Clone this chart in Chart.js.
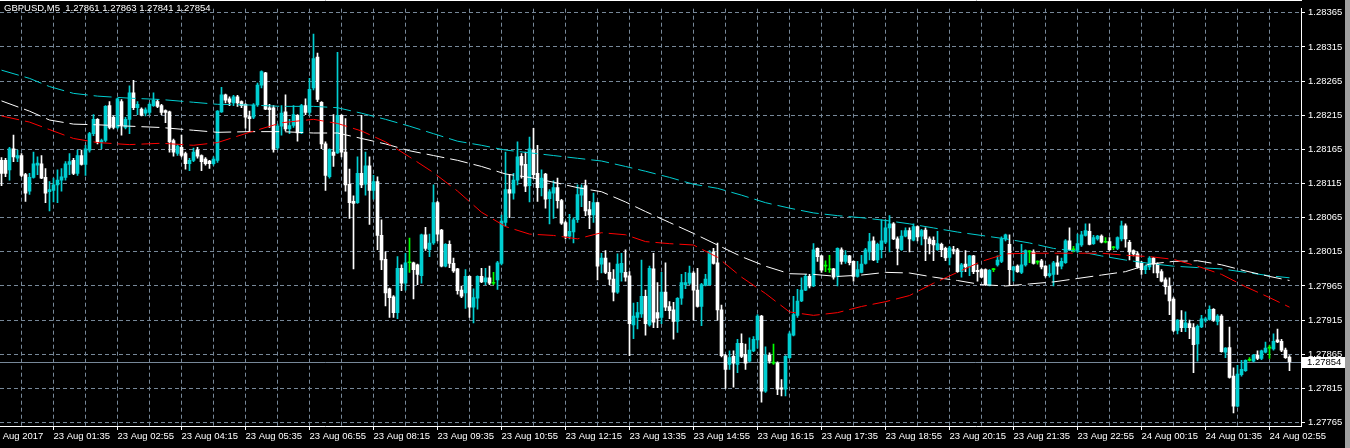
<!DOCTYPE html>
<html>
<head>
<meta charset="utf-8">
<title>GBPUSD,M5</title>
<script src="https://cdn.jsdelivr.net/npm/chart.js@4.4.1/dist/chart.umd.min.js"></script>
<style>
  html, body { margin: 0; padding: 0; background: #000; overflow: hidden; }
  canvas { display: block; }
</style>
</head>
<body>
<canvas id="myChart" width="1350" height="448"></canvas>
<script>
const symbol = "GBPUSD,M5";

// M5 candles, bar 0 = 23 Aug 00:30 ... bar 322 = 24 Aug 03:20
const openP = [
  1.28149,1.28149,1.28135,1.28166,1.28152,1.28156,1.28128,1.28104,1.28124,1.28142,
  1.28144,1.28124,1.28103,1.28105,1.28113,1.28120,1.28124,1.28143,1.28149,1.28130,
  1.28156,1.28143,1.28164,1.28188,1.28209,1.28176,1.28178,1.28229,1.28212,1.28197,
  1.28235,1.28197,1.28209,1.28248,1.28226,1.28224,1.28218,1.28219,1.28229,1.28235,
  1.28229,1.28222,1.28220,1.28178,1.28159,1.28168,1.28159,1.28144,1.28149,1.28164,
  1.28156,1.28151,1.28148,1.28144,1.28149,1.28220,1.28245,1.28239,1.28233,1.28242,
  1.28235,1.28231,1.28213,1.28212,1.28230,1.28259,1.28277,1.28226,1.28226,1.28167,
  1.28199,1.28220,1.28195,1.28200,1.28215,1.28189,1.28229,1.28219,1.28255,1.28300,
  1.28234,1.28173,1.28125,1.28161,1.28160,1.28215,1.28161,1.28114,1.28089,1.28087,
  1.28130,1.28114,1.28141,1.28105,1.28118,1.28039,1.28004,1.27961,1.27949,1.27926,
  1.27991,1.27969,1.27999,1.27999,1.27996,1.27980,1.28040,1.28018,1.28028,1.28087,
  1.28047,1.27994,1.28026,1.27998,1.27990,1.27959,1.27955,1.27979,1.27934,1.27947,
  1.27979,1.27971,1.27977,1.27969,1.27974,1.27998,1.28058,1.28106,1.28101,1.28120,
  1.28155,1.28143,1.28112,1.28164,1.28130,1.28109,1.28129,1.28093,1.28101,1.28109,
  1.28090,1.28058,1.28038,1.28044,1.28062,1.28098,1.28112,1.28077,1.28069,1.28087,
  1.27997,1.28006,1.27985,1.27975,1.27956,1.27985,1.27985,1.27980,1.27908,1.27919,
  1.27924,1.27950,1.27908,1.27990,1.27926,1.27919,1.27956,1.27935,1.27930,1.27913,
  1.27947,1.27967,1.27969,1.27984,1.27959,1.27935,1.27966,1.27967,1.28015,1.27999,
  1.27930,1.27863,1.27850,1.27862,1.27850,1.27881,1.27865,1.27855,1.27870,1.27886,
  1.27921,1.27811,1.27864,1.27852,1.27852,1.27816,1.27814,1.27860,1.27893,1.27922,
  1.27943,1.27959,1.27979,1.27965,1.28020,1.28009,1.27994,1.27989,1.27990,1.27979,
  1.28018,1.28001,1.28009,1.28001,1.27979,1.27985,1.27998,1.28015,1.28031,1.28003,
  1.28018,1.28029,1.28050,1.28056,1.28034,1.28018,1.28038,1.28046,1.28032,1.28052,
  1.28038,1.28047,1.28034,1.28032,1.28018,1.28026,1.28020,1.28007,1.28018,1.28018,
  1.27986,1.27997,1.27994,1.28009,1.27988,1.27989,1.27989,1.27966,1.27989,1.27996,
  1.28001,1.28034,1.28026,1.27988,1.27994,1.27985,1.27996,1.28015,1.28015,1.28000,
  1.28002,1.27994,1.27980,1.27982,1.27999,1.27994,1.27999,1.28031,1.28018,1.28017,
  1.28025,1.28039,1.28045,1.28027,1.28034,1.28038,1.28029,1.28030,1.28021,1.28020,
  1.28034,1.28053,1.28029,1.28017,1.28012,1.27998,1.27989,1.27993,1.28006,1.27997,
  1.27986,1.27974,1.27965,1.27946,1.27900,1.27915,1.27904,1.27910,1.27904,1.27880,
  1.27905,1.27915,1.27916,1.27931,1.27913,1.27921,1.27868,1.27875,1.27833,1.27789,
  1.27835,1.27841,1.27856,1.27855,1.27864,1.27859,1.27868,1.27874,1.27873,1.27886,
  1.27884,1.27871,1.27861
];
const highP = [
  1.28153,1.28152,1.28168,1.28186,1.28164,1.28159,1.28130,1.28130,1.28161,1.28154,
  1.28156,1.28137,1.28118,1.28123,1.28135,1.28137,1.28147,1.28159,1.28152,1.28164,
  1.28164,1.28171,1.28190,1.28216,1.28210,1.28180,1.28229,1.28235,1.28214,1.28240,
  1.28238,1.28212,1.28258,1.28266,1.28235,1.28226,1.28226,1.28233,1.28248,1.28238,
  1.28231,1.28223,1.28221,1.28180,1.28172,1.28186,1.28161,1.28152,1.28167,1.28168,
  1.28157,1.28153,1.28149,1.28154,1.28222,1.28256,1.28246,1.28242,1.28244,1.28244,
  1.28236,1.28232,1.28221,1.28232,1.28262,1.28280,1.28278,1.28231,1.28229,1.28202,
  1.28229,1.28245,1.28209,1.28229,1.28216,1.28231,1.28239,1.28269,1.28334,1.28306,
  1.28235,1.28176,1.28166,1.28216,1.28307,1.28216,1.28210,1.28136,1.28097,1.28154,
  1.28215,1.28161,1.28154,1.28127,1.28125,1.28062,1.28015,1.27962,1.27951,1.28008,
  1.27996,1.28013,1.28035,1.28000,1.27997,1.28041,1.28051,1.28041,1.28113,1.28089,
  1.28048,1.28027,1.28031,1.28006,1.27991,1.27965,1.27989,1.27980,1.27961,1.27980,
  1.27991,1.27991,1.27994,1.27985,1.28001,1.28069,1.28161,1.28128,1.28130,1.28176,
  1.28159,1.28161,1.28183,1.28196,1.28171,1.28135,1.28130,1.28106,1.28119,1.28123,
  1.28092,1.28060,1.28070,1.28065,1.28113,1.28113,1.28120,1.28089,1.28101,1.28088,
  1.28013,1.28017,1.27999,1.27989,1.28012,1.28013,1.28018,1.27986,1.27940,1.27941,
  1.28003,1.27959,1.27994,1.28013,1.27970,1.27985,1.27999,1.27942,1.27941,1.27948,
  1.27982,1.27985,1.27994,1.27986,1.27991,1.27969,1.27982,1.28017,1.28020,1.28028,
  1.27937,1.27865,1.27870,1.27870,1.27887,1.27895,1.27880,1.27889,1.27891,1.27923,
  1.27922,1.27876,1.27867,1.27880,1.27854,1.27828,1.27863,1.27898,1.27950,1.27960,
  1.27977,1.27982,1.27982,1.28027,1.28021,1.28010,1.28002,1.28010,1.27991,1.28021,
  1.28021,1.28017,1.28010,1.28002,1.28001,1.28010,1.28020,1.28042,1.28037,1.28028,
  1.28062,1.28062,1.28068,1.28058,1.28037,1.28046,1.28050,1.28050,1.28056,1.28053,
  1.28048,1.28050,1.28037,1.28037,1.28045,1.28028,1.28022,1.28023,1.28023,1.28020,
  1.27998,1.28017,1.28010,1.28010,1.27996,1.27990,1.27990,1.27989,1.27991,1.28009,
  1.28037,1.28041,1.28040,1.27994,1.27996,1.28026,1.28018,1.28017,1.28018,1.28002,
  1.28004,1.27995,1.27996,1.28001,1.28009,1.28006,1.28033,1.28050,1.28023,1.28041,
  1.28045,1.28056,1.28056,1.28039,1.28039,1.28040,1.28036,1.28036,1.28023,1.28037,
  1.28060,1.28056,1.28032,1.28018,1.28015,1.28001,1.27996,1.28008,1.28007,1.27999,
  1.27989,1.27977,1.27977,1.27948,1.27916,1.27929,1.27927,1.27915,1.27910,1.27908,
  1.27922,1.27919,1.27936,1.27932,1.27923,1.27923,1.27875,1.27905,1.27845,1.27849,
  1.27856,1.27857,1.27860,1.27865,1.27870,1.27871,1.27883,1.27878,1.27895,1.27902,
  1.27887,1.27874,1.27863
];
const lowP = [
  1.28112,1.28125,1.28120,1.28147,1.28147,1.28125,1.28089,1.28099,1.28123,1.28128,
  1.28122,1.28087,1.28075,1.28088,1.28087,1.28104,1.28120,1.28128,1.28128,1.28127,
  1.28142,1.28127,1.28161,1.28185,1.28173,1.28166,1.28176,1.28195,1.28195,1.28195,
  1.28186,1.28195,1.28188,1.28223,1.28216,1.28214,1.28214,1.28216,1.28228,1.28226,
  1.28216,1.28204,1.28161,1.28155,1.28156,1.28154,1.28136,1.28134,1.28147,1.28152,
  1.28134,1.28142,1.28137,1.28142,1.28146,1.28219,1.28233,1.28229,1.28229,1.28228,
  1.28226,1.28196,1.28191,1.28210,1.28228,1.28255,1.28223,1.28197,1.28161,1.28165,
  1.28186,1.28192,1.28188,1.28197,1.28177,1.28188,1.28216,1.28216,1.28252,1.28235,
  1.28166,1.28105,1.28123,1.28140,1.28159,1.28154,1.28104,1.28064,1.27990,1.28086,
  1.28109,1.28098,1.28055,1.28092,1.28018,1.27989,1.27936,1.27919,1.27919,1.27917,
  1.27958,1.27959,1.27985,1.27946,1.27967,1.27969,1.28017,1.28008,1.28026,1.28031,
  1.27993,1.27993,1.27992,1.27985,1.27953,1.27948,1.27932,1.27919,1.27911,1.27931,
  1.27970,1.27967,1.27967,1.27967,1.27960,1.27996,1.28053,1.28065,1.28092,1.28113,
  1.28123,1.28103,1.28088,1.28123,1.28089,1.28097,1.28079,1.28056,1.28064,1.28079,
  1.28055,1.28034,1.28034,1.28028,1.28058,1.28081,1.28068,1.28049,1.28058,1.27974,
  1.27984,1.27983,1.27967,1.27943,1.27954,1.27972,1.27972,1.27863,1.27888,1.27902,
  1.27919,1.27893,1.27906,1.27904,1.27904,1.27910,1.27929,1.27917,1.27887,1.27897,
  1.27938,1.27961,1.27967,1.27915,1.27934,1.27907,1.27965,1.27966,1.27997,1.27915,
  1.27861,1.27815,1.27843,1.27817,1.27838,1.27860,1.27843,1.27854,1.27869,1.27874,
  1.27795,1.27809,1.27852,1.27850,1.27806,1.27804,1.27804,1.27859,1.27892,1.27919,
  1.27942,1.27958,1.27962,1.27964,1.28001,1.27985,1.27986,1.27985,1.27975,1.27965,
  1.27997,1.27998,1.27996,1.27972,1.27978,1.27984,1.27997,1.28003,1.28002,1.27999,
  1.28006,1.28027,1.28015,1.28033,1.27996,1.28017,1.28037,1.28015,1.28031,1.28031,
  1.28025,1.28002,1.28012,1.28002,1.28017,1.28008,1.28002,1.27996,1.28012,1.27985,
  1.27978,1.27986,1.27980,1.27983,1.27972,1.27977,1.27966,1.27965,1.27986,1.27994,
  1.27999,1.28031,1.27967,1.27972,1.27985,1.27983,1.27994,1.27999,1.27997,1.27997,
  1.27990,1.27978,1.27978,1.27965,1.27982,1.27990,1.27998,1.28017,1.28015,1.28014,
  1.28023,1.28038,1.28025,1.28026,1.28032,1.28028,1.28028,1.28017,1.28018,1.28018,
  1.28031,1.28022,1.28003,1.28009,1.27991,1.27982,1.27983,1.27989,1.27984,1.27977,
  1.27971,1.27953,1.27923,1.27898,1.27895,1.27898,1.27898,1.27888,1.27838,1.27855,
  1.27904,1.27912,1.27915,1.27913,1.27908,1.27868,1.27860,1.27830,1.27779,1.27788,
  1.27833,1.27840,1.27855,1.27854,1.27857,1.27857,1.27867,1.27859,1.27871,1.27882,
  1.27869,1.27859,1.27841
];
const closeP = [
  1.28130,1.28130,1.28166,1.28154,1.28156,1.28127,1.28101,1.28124,1.28144,1.28145,
  1.28123,1.28101,1.28106,1.28113,1.28120,1.28125,1.28144,1.28147,1.28130,1.28156,
  1.28143,1.28166,1.28188,1.28209,1.28176,1.28178,1.28228,1.28197,1.28197,1.28239,
  1.28200,1.28209,1.28248,1.28226,1.28231,1.28215,1.28223,1.28231,1.28237,1.28228,
  1.28219,1.28219,1.28176,1.28161,1.28170,1.28156,1.28144,1.28149,1.28161,1.28155,
  1.28147,1.28144,1.28144,1.28151,1.28221,1.28245,1.28237,1.28234,1.28242,1.28233,
  1.28229,1.28212,1.28210,1.28230,1.28259,1.28279,1.28224,1.28223,1.28165,1.28199,
  1.28218,1.28195,1.28200,1.28216,1.28189,1.28229,1.28219,1.28253,1.28298,1.28238,
  1.28173,1.28127,1.28165,1.28156,1.28215,1.28161,1.28113,1.28087,1.28086,1.28130,
  1.28113,1.28141,1.28105,1.28118,1.28039,1.28003,1.27955,1.27948,1.27926,1.27991,
  1.27969,1.27999,1.27999,1.27989,1.27982,1.28040,1.28020,1.28028,1.28087,1.28041,
  1.27994,1.28026,1.27998,1.27987,1.27958,1.27950,1.27979,1.27934,1.27948,1.27979,
  1.27971,1.27977,1.27969,1.27969,1.27999,1.28060,1.28106,1.28101,1.28120,1.28154,
  1.28142,1.28111,1.28166,1.28128,1.28109,1.28123,1.28092,1.28103,1.28109,1.28090,
  1.28057,1.28038,1.28045,1.28062,1.28099,1.28109,1.28075,1.28069,1.28087,1.27994,
  1.28006,1.27985,1.27975,1.27956,1.27997,1.27998,1.27978,1.27910,1.27921,1.27926,
  1.27950,1.27910,1.27991,1.27912,1.27918,1.27956,1.27934,1.27929,1.27913,1.27947,
  1.27970,1.27970,1.27984,1.27959,1.27935,1.27967,1.27975,1.28014,1.27998,1.27930,
  1.27863,1.27843,1.27860,1.27852,1.27881,1.27862,1.27852,1.27871,1.27887,1.27921,
  1.27811,1.27864,1.27855,1.27852,1.27814,1.27814,1.27862,1.27895,1.27923,1.27943,
  1.27959,1.27979,1.27965,1.28018,1.28008,1.27988,1.27994,1.27989,1.27978,1.28020,
  1.28001,1.28010,1.27999,1.27979,1.27989,1.27997,1.28018,1.28030,1.28003,1.28026,
  1.28031,1.28050,1.28056,1.28034,1.28020,1.28038,1.28046,1.28034,1.28052,1.28037,
  1.28046,1.28034,1.28027,1.28025,1.28027,1.28018,1.28006,1.28021,1.28017,1.27986,
  1.27996,1.27993,1.28009,1.27986,1.27986,1.27978,1.27967,1.27988,1.27989,1.28003,
  1.28034,1.28040,1.27989,1.27993,1.27986,1.27996,1.28017,1.28015,1.27998,1.28000,
  1.27993,1.27980,1.27983,1.27999,1.27994,1.28001,1.28031,1.28018,1.28018,1.28027,
  1.28040,1.28046,1.28026,1.28036,1.28038,1.28029,1.28029,1.28018,1.28021,1.28036,
  1.28053,1.28034,1.28015,1.28012,1.27993,1.27989,1.27994,1.28006,1.27997,1.27984,
  1.27972,1.27964,1.27943,1.27900,1.27915,1.27904,1.27911,1.27904,1.27879,1.27906,
  1.27917,1.27917,1.27931,1.27915,1.27921,1.27869,1.27874,1.27831,1.27789,1.27836,
  1.27843,1.27856,1.27856,1.27864,1.27859,1.27870,1.27874,1.27874,1.27884,1.27883,
  1.27871,1.27860,1.27854
];

// moving averages at these bars
const maBar = [0,7,12,18,24,32,40,48,54,62,70,78,84,90,96,102,108,114,120,126,132,138,144,150,156,161,
  167,173,179,185,191,197,203,209,215,221,227,233,239,245,251,257,263,269,275,281,287,293,299,305,311,317,322];
const maFast = [1.28214,1.28205,1.28194,1.28181,1.28175,1.28172,1.28174,1.28171,1.28175,1.28190,
  1.28204,1.28209,1.28203,1.28192,1.28176,1.28154,1.28131,1.28104,1.28073,1.28052,
  1.28041,1.28039,1.28034,1.28043,1.28040,1.28030,1.28027,1.28025,1.28007,1.27978,
  1.27954,1.27927,1.27922,1.27926,1.27935,1.27942,1.27951,1.27969,1.27985,1.28001,
  1.28012,1.28013,1.28013,1.28013,1.28013,1.28010,1.28008,1.28004,1.27994,1.27982,
  1.27964,1.27948,1.27934];
const maMid = [1.28236,1.28221,1.28208,1.28202,1.28201,1.28199,1.28197,1.28193,1.28190,1.28191,
  1.28191,1.28189,1.28189,1.28181,1.28173,1.28163,1.28156,1.28149,1.28140,1.28129,
  1.28124,1.28117,1.28109,1.28103,1.28088,1.28074,1.28058,1.28042,1.28025,1.28008,
  1.27994,1.27983,1.27982,1.27979,1.27981,1.27985,1.27984,1.27978,1.27973,1.27967,
  1.27965,1.27968,1.27971,1.27976,1.27981,1.27986,1.27997,1.28001,1.28002,1.27996,
  1.27987,1.27979,1.27973];
const maSlow = [1.28281,1.28269,1.28257,1.28247,1.28243,1.28240,1.28238,1.28234,1.28231,1.28230,
  1.28228,1.28228,1.28226,1.28218,1.28209,1.28199,1.28188,1.28177,1.28171,1.28164,
  1.28160,1.28156,1.28152,1.28148,1.28140,1.28133,1.28124,1.28114,1.28108,1.28098,
  1.28087,1.28079,1.28072,1.28068,1.28065,1.28061,1.28056,1.28050,1.28044,1.28039,
  1.28034,1.28028,1.28020,1.28016,1.28009,1.28003,1.27998,1.27994,1.27992,1.27990,
  1.27985,1.27980,1.27977];

const priceTicks = [1.27765,1.27815,1.27865,1.27915,1.27965,1.28015,1.28065,
  1.28115,1.28165,1.28215,1.28265,1.28315,1.28365];
const labelBars = [-3,13,29,45,61,77,93,109,125,141,157,173,189,205,221,237,253,269,285,301,317];
const timeLabels = ["23 Aug 2017","23 Aug 01:35","23 Aug 02:55","23 Aug 04:15","23 Aug 05:35",
  "23 Aug 06:55","23 Aug 08:15","23 Aug 09:35","23 Aug 10:55","23 Aug 12:15","23 Aug 13:35",
  "23 Aug 14:55","23 Aug 16:15","23 Aug 17:35","23 Aug 18:55","23 Aug 20:15","23 Aug 21:35",
  "23 Aug 22:55","24 Aug 00:15","24 Aug 01:35","24 Aug 02:55"];

const UP = '#00ced1';
const DOWN = '#ffffff';
const DOJI = '#00ff00';
const GRID = '#778899';
const FONT = "'Liberation Sans', Arial, sans-serif";

const last = closeP.length - 1;

function candleColor(i) {
  if (closeP[i] > openP[i]) return UP;
  if (closeP[i] < openP[i]) return DOWN;
  return DOJI;
}

// grid every 8 bars, text every 16
const gridBars = [];
labelBars.forEach(b => { gridBars.push(b); if (b + 8 <= last) gridBars.push(b + 8); });

const mtDecor = {
  id: 'mtDecor',
  beforeDraw(chart) {
    const ctx = chart.ctx;
    ctx.save();
    ctx.fillStyle = '#000';
    ctx.fillRect(0, 0, chart.width, chart.height);
    ctx.restore();
  },
  beforeDatasetsDraw(chart) {
    // bid line
    const { ctx, chartArea } = chart;
    const py = Math.round(chart.scales.y.getPixelForValue(closeP[last])) + 0.5;
    ctx.save();
    ctx.strokeStyle = GRID;
    ctx.lineWidth = 1;
    ctx.beginPath();
    ctx.moveTo(chartArea.left, py);
    ctx.lineTo(chartArea.right, py);
    ctx.stroke();
    ctx.restore();
  },
  afterDraw(chart) {
    const { ctx, chartArea } = chart;
    ctx.save();
    // top edge of the frame
    ctx.strokeStyle = '#fff';
    ctx.lineWidth = 1;
    ctx.beginPath();
    ctx.moveTo(0, 0.5);
    ctx.lineTo(chartArea.right + 1, 0.5);
    ctx.stroke();

    // header
    ctx.font = '9.5px ' + FONT;
    ctx.fillStyle = '#fff';
    ctx.textBaseline = 'middle';
    ctx.textAlign = 'left';
    const head = symbol + '  ' + [openP[last], highP[last], lowP[last], closeP[last]]
      .map(v => v.toFixed(5)).join(' ');
    ctx.fillText(head, 4, 8);

    // current price box
    const py = Math.round(chart.scales.y.getPixelForValue(closeP[last]));
    ctx.fillStyle = '#fff';
    ctx.fillRect(chartArea.right + 1, py - 5, 43, 11);
    ctx.fillStyle = '#000';
    ctx.fillText(closeP[last].toFixed(5), chartArea.right + 6, py + 0.5);

    // window edge
    ctx.fillStyle = '#a0a0a0';
    ctx.fillRect(1345, 0, 5, chart.height);
    ctx.restore();
  }
};

const candleIdx = openP.map((_, i) => i);

new Chart(document.getElementById('myChart'), {
  type: 'bar',
  data: {
    datasets: [
      {
        type: 'line', label: 'MA fast', order: 0,
        data: maBar.map((b, k) => ({ x: b, y: maFast[k] })),
        borderColor: '#ff0000', borderWidth: 1, borderDash: [18, 6],
        pointRadius: 0, tension: 0, fill: false
      },
      {
        type: 'line', label: 'MA mid', order: 0,
        data: maBar.map((b, k) => ({ x: b, y: maMid[k] })),
        borderColor: '#ffffff', borderWidth: 1, borderDash: [18, 6],
        pointRadius: 0, tension: 0, fill: false
      },
      {
        type: 'line', label: 'MA slow', order: 0,
        data: maBar.map((b, k) => ({ x: b, y: maSlow[k] })),
        borderColor: UP, borderWidth: 1, borderDash: [18, 6],
        pointRadius: 0, tension: 0, fill: false
      },
      {
        label: 'bodies', order: 1, grouped: false,
        data: candleIdx.map(i => ({ x: i, y: [Math.min(openP[i], closeP[i]), Math.max(openP[i], closeP[i])] })),
        backgroundColor: ctx => candleColor(ctx.dataIndex),
        barThickness: 3, minBarLength: 1, borderWidth: 0
      },
      {
        label: 'wicks', order: 2, grouped: false,
        data: candleIdx.map(i => ({ x: i, y: [lowP[i], highP[i]] })),
        backgroundColor: ctx => candleColor(ctx.dataIndex),
        barThickness: 1, borderWidth: 0
      }
    ]
  },
  options: {
    responsive: false,
    animation: false,
    events: [],
    layout: { padding: { top: 1, left: 0, right: 0, bottom: 0 } },
    plugins: { legend: { display: false }, tooltip: { enabled: false } },
    scales: {
      x: {
        type: 'linear',
        min: -0.375,
        max: 324.875,
        bounds: 'data',
        offset: false,
        afterBuildTicks: s => { s.ticks = gridBars.map(v => ({ value: v })); },
        afterFit: s => { s.height = 22; s.paddingLeft = 0; s.paddingRight = 0; },
        ticks: {
          autoSkip: false, maxRotation: 0, minRotation: 0, align: 'start',
          color: '#fff', font: { family: FONT, size: 9.5 }, padding: 1,
          callback: v => { const k = labelBars.indexOf(v); return k >= 0 ? timeLabels[k] : ''; }
        },
        grid: {
          color: GRID, offset: false, tickLength: 4,
          tickColor: c => (c.tick && labelBars.indexOf(c.tick.value) >= 0) ? '#fff' : 'rgba(0,0,0,0)'
        },
        border: { color: '#fff', dash: [4, 3] }
      },
      y: {
        position: 'right',
        min: 1.27760,
        max: 1.28371,
        bounds: 'data',
        afterBuildTicks: s => { s.ticks = priceTicks.map(v => ({ value: v })); },
        afterFit: s => { s.width = 49; },
        ticks: {
          color: '#fff', font: { family: FONT, size: 9.5 }, padding: 3,
          callback: v => v.toFixed(5)
        },
        grid: { color: GRID, tickLength: 4, tickColor: '#fff' },
        border: { color: '#fff', dash: [4, 3] }
      }
    }
  },
  plugins: [mtDecor]
});
</script>
</body>
</html>
